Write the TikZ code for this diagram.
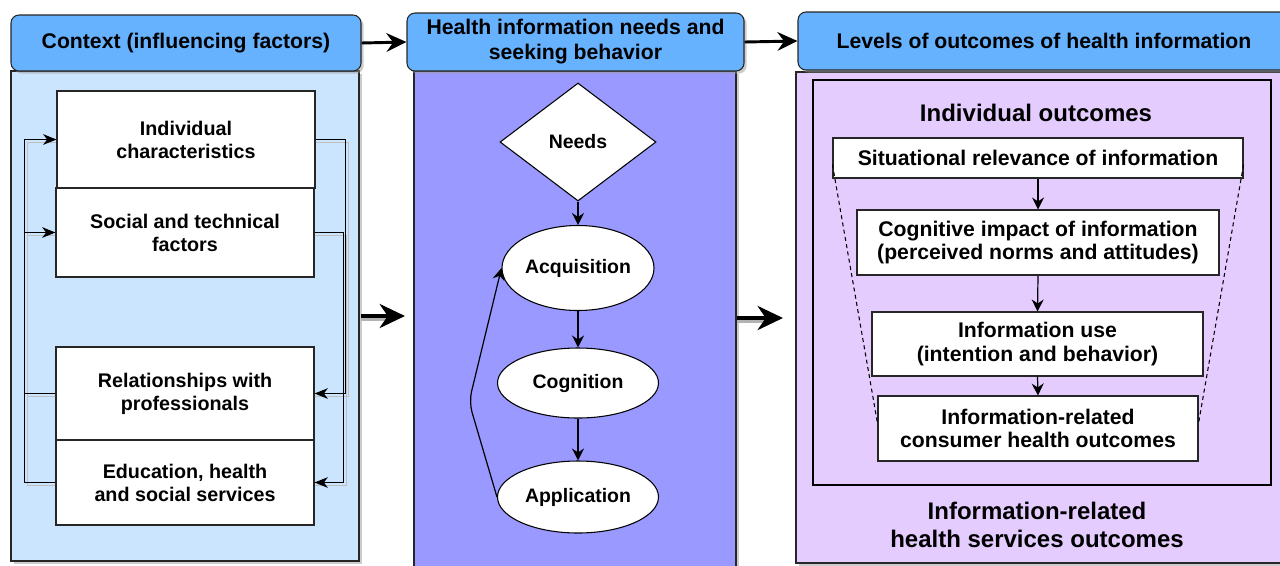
\documentclass[tikz,border=0pt]{standalone}
\usepackage{fontspec}
\setmainfont{Liberation Sans}
\usetikzlibrary{arrows.meta,shapes.geometric,shadows}
\definecolor{hdrblue}{HTML}{66B2FF}
\definecolor{ctxfill}{HTML}{CCE5FF}
\definecolor{seekfill}{HTML}{9999FF}
\definecolor{outfill}{HTML}{E5CCFF}
\begin{document}
\begin{tikzpicture}[x=0.75pt,y=-0.75pt,
  shade/.style={drop shadow={shadow xshift=2pt,shadow yshift=-2pt,fill=black!40,opacity=0.5}},
  header/.style={draw=black!85,fill=hdrblue,rounded corners=6pt,line width=0.8pt,align=center,
    font=\fontsize{15.9}{18.8}\selectfont\bfseries,inner sep=0pt,shade},
  panel/.style={draw=black!85,line width=0.8pt,inner sep=0pt,shade},
  ctxbox/.style={draw=black!85,fill=white,line width=0.8pt,align=center,inner sep=0pt,
    font=\fontsize{14.8}{17.3}\selectfont\bfseries,minimum width=258*0.75pt},
  stage/.style={ellipse,draw=black,fill=white,line width=0.8pt,inner sep=0pt,
    font=\fontsize{14.6}{17}\selectfont\bfseries},
  outbox/.style={draw=black!85,fill=white,line width=0.8pt,align=center,inner sep=0pt,
    font=\fontsize{15.9}{17.5}\selectfont\bfseries},
  bigtitle/.style={align=center,font=\fontsize{18}{21}\selectfont\bfseries},
  toparrow/.style={-{Stealth[length=15pt,width=14pt,inset=5pt]},line width=2.2pt},
  bigarrow/.style={-{Stealth[length=19pt,width=18pt,inset=6pt]},line width=3pt},
  bigshadow/.style={draw=black!30,line width=3pt},
  flow/.style={-{Stealth[length=9pt,width=9pt,inset=3pt]},line width=0.9pt},
  loop/.style={-{Stealth[length=10pt,width=8pt,inset=3pt]},line width=0.9pt},
  loopshadow/.style={draw=black!25,line width=1.2pt}
]
\useasboundingbox (0,0) rectangle (1280,565);
\clip (0,0) rectangle (1280,565);

% ---- panels ----
\node[panel,fill=ctxfill,minimum width=348*0.75pt,minimum height=490*0.75pt] (ctxpanel) at (185,316) {};
\node[panel,fill=seekfill,minimum width=322*0.75pt,minimum height=500*0.75pt] (seekpanel) at (575,321) {};
\node[panel,fill=outfill,minimum width=494*0.75pt,minimum height=491*0.75pt] (outpanel) at (1043,317.5) {};

% ---- headers ----
\node[header,minimum width=350*0.75pt,minimum height=56*0.75pt] (ctxhead) at (186,43) {Context (influencing factors)};
\node[header,minimum width=337*0.75pt,minimum height=58*0.75pt] (seekhead) at (575.5,42) {Health information needs and\\seeking behavior};
\node[header,minimum width=492*0.75pt,minimum height=58*0.75pt] (outhead) at (1044,41) {Levels of outcomes of health information};

\draw[toparrow] (ctxhead.east) -- (seekhead.west);
\draw[toparrow] (seekhead.east) -- (outhead.west);

% ---- context factors ----
\node[ctxbox,minimum height=97*0.75pt] (indiv) at (186,139.5) {Individual\\characteristics};
\node[ctxbox,minimum height=89*0.75pt] (social) at (185,232.5) {Social and technical\\factors};
\node[ctxbox,minimum height=93*0.75pt] (prof) at (185,393.5) {Relationships with\\professionals};
\node[ctxbox,minimum height=85*0.75pt] (services) at (185,482.5) {Education, health\\and social services};

% soft shadows of the feedback lines
\draw[loopshadow] ([shift={(0,3)}]prof.west) -- ++(-28,0) |- ([shift={(0,3)}]indiv.west);
\draw[loopshadow] ([shift={(0,3)}]services.west) -- ++(-28,0) |- ([shift={(0,3)}]social.west);
\draw[loopshadow] ([shift={(0,3)}]indiv.east) -- ++(33,0) |- ([shift={(0,3)}]prof.east);
\draw[loopshadow] ([shift={(0,3)}]social.east) -- ++(32,0) |- ([shift={(0,3)}]services.east);

\draw[loop] (prof.west) -- ++(-31,0) |- (indiv.west);
\draw[loop] (services.west) -- ++(-31,0) |- (social.west);
\draw[loop] (indiv.east) -- ++(30,0) |- (prof.east);
\draw[loop] (social.east) -- ++(29,0) |- (services.east);

\coordinate (ctxout) at (361,316);
\coordinate (seekin) at (405,316);
\draw[bigshadow] ([shift={(0,3)}]ctxout) -- ([shift={(-16,3)}]seekin);
\draw[bigarrow] (ctxout) -- (seekin);

% ---- seeking behaviour ----
\node[diamond,draw=black,fill=white,line width=0.8pt,inner sep=0pt,aspect=1.32,
  minimum width=156*0.75pt,minimum height=118*0.75pt,
  font=\fontsize{14.6}{17}\selectfont\bfseries] (needs) at (578,142) {Needs};
\node[stage,minimum width=152*0.75pt,minimum height=85*0.75pt] (acq) at (578,268) {Acquisition};
\node[stage,minimum width=161*0.75pt,minimum height=70*0.75pt] (cog) at (578,383) {Cognition};
\node[stage,minimum width=161*0.75pt,minimum height=72*0.75pt] (app) at (578,497) {Application};

\draw[flow] (needs.south) -- (acq.north);
\draw[flow] (acq.south) -- (cog.north);
\draw[flow] (cog.south) -- (app.north);
\coordinate (bend) at (469,402);
\draw[flow,rounded corners=8pt] (app.west) -- (bend) -- (acq.west);

\coordinate (seekout) at (737,318);
\coordinate (outin) at (783,318);
\draw[bigshadow] ([shift={(0,3)}]seekout) -- ([shift={(-16,3)}]outin);
\draw[bigarrow] (seekout) -- (outin);

% ---- outcome levels ----
\node[draw=black,line width=2.2pt,minimum width=458*0.75pt,minimum height=405*0.75pt,inner sep=0pt] (frame) at (1042,282.5) {};
\node[bigtitle] (indout) at (1036,113) {Individual outcomes};

\node[outbox,minimum width=410*0.75pt,minimum height=40*0.75pt] (relev) at (1038,158) {Situational relevance of information};
\node[outbox,minimum width=362*0.75pt,minimum height=65*0.75pt] (cogimp) at (1038,242.5) {Cognitive impact of information\\(perceived norms and attitudes)};
\node[outbox,minimum width=331*0.75pt,minimum height=64*0.75pt] (use) at (1037.5,344) {Information use\\(intention and behavior)};
\node[outbox,minimum width=320*0.75pt,minimum height=65*0.75pt] (health) at (1038,428.5) {Information-related\\consumer health outcomes};

\draw[flow] (relev.south) -- (cogimp.north);
\draw[flow] (cogimp.south) -- (use.north);
\draw[flow] (use.south) -- (health.north);

\draw[line width=0.8pt,dash pattern=on 3pt off 2.5pt] ([yshift=-5pt]relev.west) -- ([yshift=4pt]health.west);
\draw[line width=0.8pt,dash pattern=on 3pt off 2.5pt] ([yshift=-5pt]relev.east) -- ([yshift=4pt]health.east);

\node[bigtitle] (hsout) at (1037,525) {Information-related\\health services outcomes};
\end{tikzpicture}
\end{document}
